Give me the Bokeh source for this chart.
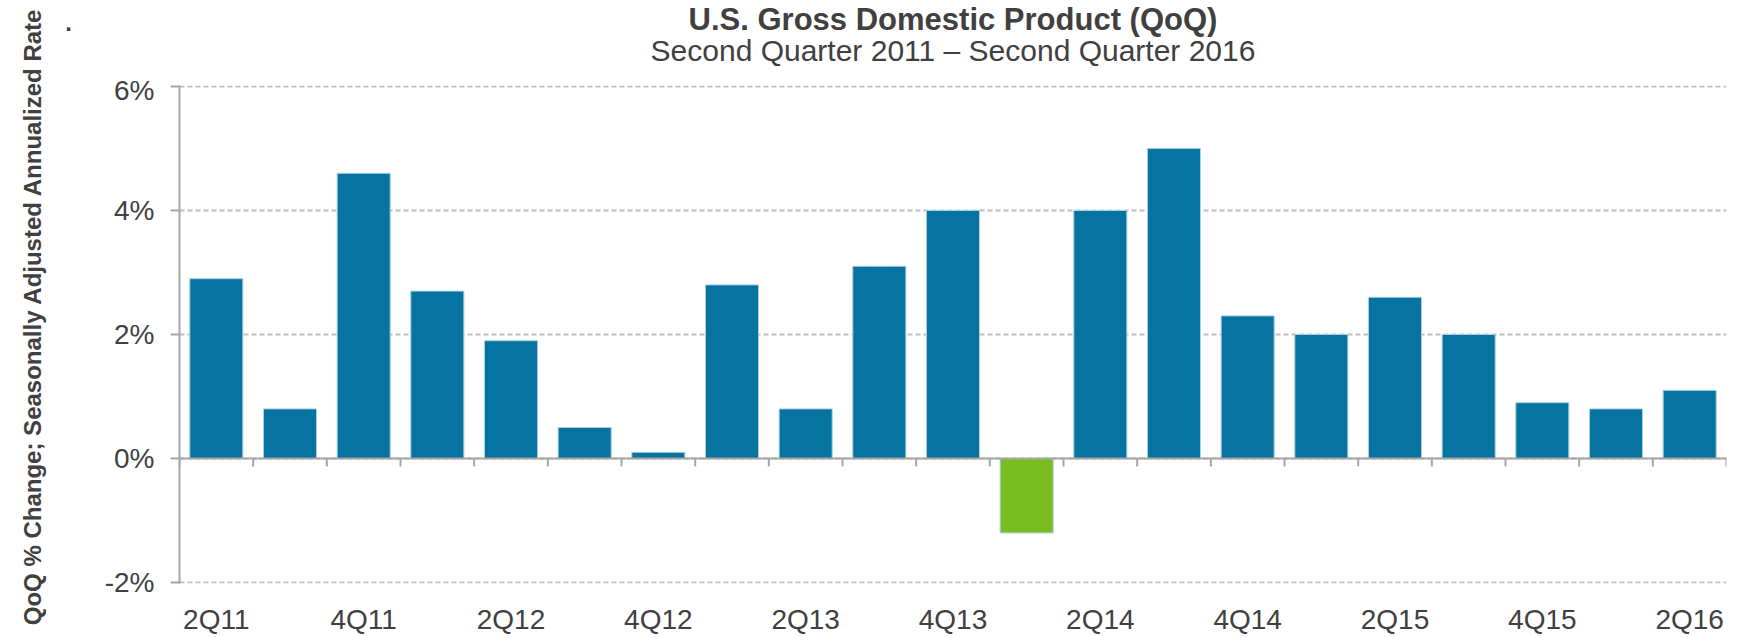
import math
from bokeh.plotting import figure
from bokeh.layouts import row, column
from bokeh.models import (Range1d, FixedTicker, PrintfTickFormatter, Span, Label,
                          ColumnDataSource)
from bokeh.embed import file_html
from bokeh.resources import INLINE

quarters = ["2Q11", "3Q11", "4Q11", "1Q12", "2Q12", "3Q12", "4Q12", "1Q13", "2Q13", "3Q13",
            "4Q13", "1Q14", "2Q14", "3Q14", "4Q14", "1Q15", "2Q15", "3Q15", "4Q15", "1Q16", "2Q16"]
gdp_growth = [2.9, 0.8, 4.6, 2.7, 1.9, 0.5, 0.1, 2.8, 0.8, 3.1,
              4.0, -1.2, 4.0, 5.0, 2.3, 2.0, 2.6, 2.0, 0.9, 0.8, 1.1]
y_ticks = [-2, 0, 2, 4, 6]
title_text = "U.S. Gross Domestic Product (QoQ)"
subtitle_text = "Second Quarter 2011 \u2013 Second Quarter 2016"
y_label = "QoQ % Change; Seasonally Adjusted Annualized Rate"

BLUE = "#0773A1"
GREEN = "#7ABD20"
TXT = "#404040"
GRAY = "#A6A6A6"
FONT = "Liberation Sans"

W, H = 1738, 637
STRIP_W = 100          # left strip holding the rotated axis title
TOP_H = 74             # top strip holding title and subtitle
MAIN_W, MAIN_H = W - STRIP_W, H - TOP_H
FRAME_L, FRAME_R, FRAME_T, FRAME_B = 79, 12, 11, 47

n = len(quarters)
xs = list(range(n))
colors = [GREEN if v < 0 else BLUE for v in gdp_growth]
src = ColumnDataSource(dict(x=xs, top=gdp_growth, color=colors, q=quarters))

# ---- main chart ----
fh = MAIN_H - FRAME_T - FRAME_B
pad = (y_ticks[-1] - y_ticks[0]) / (fh - 2)   # one pixel, so edge gridlines show
x0, x1 = -0.5, n - 0.5
p = figure(width=MAIN_W, height=MAIN_H, output_backend="svg", toolbar_location=None,
           title=None, frame_align=False,
           x_range=Range1d(x0, x1), y_range=Range1d(y_ticks[0] - pad, y_ticks[-1] + pad),
           min_border_left=FRAME_L, min_border_right=FRAME_R, min_border_top=FRAME_T,
           min_border_bottom=FRAME_B)

p.vbar(x="x", top="top", bottom=0, width=0.72, fill_color="color", line_color="#A9D0E2",
       line_width=1, source=src)

# zero line and category-boundary ticks
p.add_layout(Span(location=0, dimension="width", line_color=GRAY, line_width=2))
bounds = [i - 0.5 for i in range(n + 1)]
tick_len = 8 * pad
p.segment(x0=bounds, y0=[0] * len(bounds), x1=bounds, y1=[-tick_len] * len(bounds),
          line_color=GRAY, line_width=2)

p.outline_line_color = None
p.xgrid.grid_line_color = None
p.ygrid.ticker = FixedTicker(ticks=y_ticks)
p.ygrid.grid_line_color = "#BFBFBF"
p.ygrid.grid_line_dash = "5 3"
p.ygrid.grid_line_width = 2

xa = p.xaxis[0]
xa.ticker = FixedTicker(ticks=list(range(0, n, 2)))
xa.major_label_overrides = {i: quarters[i] for i in range(0, n, 2)}
xa.axis_line_color = None
xa.major_tick_line_color = None
xa.minor_tick_line_color = None
xa.major_label_standoff = 14
xa.major_label_text_font = FONT
xa.major_label_text_font_size = "28px"
xa.major_label_text_color = TXT

ya = p.yaxis[0]
ya.ticker = FixedTicker(ticks=y_ticks)
ya.formatter = PrintfTickFormatter(format="%d%%")
ya.axis_line_color = GRAY
ya.axis_line_width = 2
ya.major_tick_line_color = GRAY
ya.major_tick_line_width = 2
ya.major_tick_out = 9
ya.major_tick_in = 0
ya.minor_tick_line_color = None
ya.major_label_standoff = 16
ya.major_label_text_font = FONT
ya.major_label_text_font_size = "28px"
ya.major_label_text_color = TXT

# ---- helper strips (y downward) ----
def strip(w, h):
    f = figure(width=w, height=h, output_backend="svg", toolbar_location=None,
               title=None, frame_align=False,
               x_range=Range1d(0, w), y_range=Range1d(h, 0),
               x_axis_location=None, y_axis_location=None,
               min_border=0, min_border_left=0, min_border_right=0,
               min_border_top=0, min_border_bottom=0)
    f.outline_line_color = None
    f.grid.visible = False
    return f

top = strip(MAIN_W, TOP_H)
tx = FRAME_L + (MAIN_W - FRAME_L - FRAME_R) / 2
top.add_layout(Label(x=tx, y=18.5, text=title_text, text_font=FONT, text_font_size="31px",
                     text_font_style="bold", text_color=TXT, text_align="center",
                     text_baseline="alphabetic"))
top.add_layout(Label(x=tx, y=50, text=subtitle_text, text_font=FONT, text_font_size="30px",
                     text_color=TXT, text_align="center", text_baseline="alphabetic"))

left = strip(STRIP_W, H)
left.add_layout(Label(x=32, y=316, text=y_label, text_font=FONT, text_font_size="24px",
                      text_font_style="bold", text_color=TXT, text_align="center",
                      text_baseline="alphabetic", angle=math.pi / 2))
left.add_layout(Label(x=68, y=22, text=".", text_font=FONT, text_font_size="24px",
                      text_font_style="bold", text_color=TXT, text_align="center",
                      text_baseline="alphabetic"))

layout = row(left, column(top, p, spacing=0), spacing=0)
open("out.html", "w").write(file_html(layout, INLINE))
